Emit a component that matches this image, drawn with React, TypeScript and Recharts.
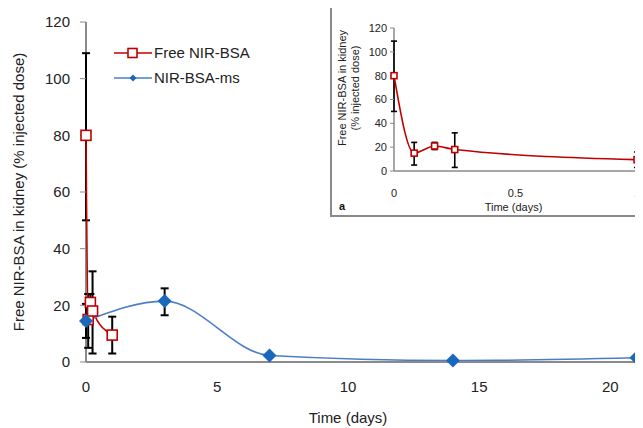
import React from 'react';
import {
  ComposedChart,
  Line,
  XAxis,
  YAxis,
  ErrorBar,
  Label,
  ReferenceLine,
} from 'recharts';

// Free NIR-BSA (days, % injected dose, error bar limits)
const freeX = [0, 0.083, 0.167, 0.25, 1];
const freeY = [80, 15, 21, 18, 9.5];
const freeLow = [50, 5, 18, 3, 3];
const freeHigh = [109, 24, 24, 32, 16];

// NIR-BSA-ms
const msX = [0, 3, 7, 14, 21];
const msY = [14.5, 21.5, 2.3, 0.5, 1.5];
const msLow = [8.5, 16.5, 2.3, 0.5, 1.5];
const msHigh = [20.5, 26, 2.3, 0.5, 1.5];

const seriesNames = ['Free NIR-BSA', 'NIR-BSA-ms'];
const yTicks = [0, 20, 40, 60, 80, 100, 120];
const mainXTicks = [0, 5, 10, 15, 20];
const insetXTicks = [0, 0.5, 1];

const RED = '#C00000';
const BLUE_DOT = '#1A68BE';
const BLUE_LINE = '#4A7EC6';
const AXIS = '#8A8A8A';
const FONT = '"Liberation Sans", Arial, sans-serif';

const toRows = (xs: number[], ys: number[], lo: number[], hi: number[]) =>
  xs.map((x, i) => ({ x, y: ys[i], err: [ys[i] - lo[i], hi[i] - ys[i]] }));

const freeData = toRows(freeX, freeY, freeLow, freeHigh);
const msData = toRows(msX, msY, msLow, msHigh);

const squareDot = (size: number) => (props: any) => {
  const { cx, cy, index } = props;
  if (cx == null || cy == null) return <g key={index} />;
  return (
    <rect
      key={index}
      x={cx - size / 2}
      y={cy - size / 2}
      width={size}
      height={size}
      fill="#fff"
      stroke={RED}
      strokeWidth={1.6}
    />
  );
};

const diamondDot = (size: number) => (props: any) => {
  const { cx, cy, index } = props;
  if (cx == null || cy == null) return <g key={index} />;
  const h = size / 2;
  return (
    <path
      key={index}
      d={`M${cx},${cy - h} L${cx + h},${cy} L${cx},${cy + h} L${cx - h},${cy} Z`}
      fill={BLUE_DOT}
    />
  );
};

const LegendBox = () => (
  <div
    style={{
      position: 'absolute',
      left: 114,
      top: 40,
      fontFamily: FONT,
      fontSize: 15,
      color: '#222',
    }}
  >
    {seriesNames.map((name, i) => (
      <div key={name} style={{ display: 'flex', alignItems: 'center', height: 25 }}>
        <svg width={38} height={14} style={{ marginRight: 2 }}>
          <line x1={0} y1={7} x2={38} y2={7} stroke={i === 0 ? RED : BLUE_LINE} strokeWidth={1.6} />
          {i === 0 ? (
            <rect x={14} y={2.5} width={9} height={9} fill="#fff" stroke={RED} strokeWidth={1.6} />
          ) : (
            <path d="M19,3.5 L22.5,7 L19,10.5 L15.5,7 Z" fill={BLUE_DOT} />
          )}
        </svg>
        <span>{name}</span>
      </div>
    ))}
  </div>
);

export default function App() {
  const tickStyle = { fontSize: 15, fill: '#222', fontFamily: FONT };
  const insetTick = { fontSize: 11, fill: '#222', fontFamily: FONT };

  return (
    <div
      style={{
        position: 'relative',
        width: 643,
        height: 428,
        marginLeft: -8,
        marginTop: -8,
        overflow: 'hidden',
        background: '#fff',
        fontFamily: FONT,
      }}
    >
      <ComposedChart width={643} height={428} margin={{ top: 22, right: 0, bottom: 26, left: 0 }}>
        <XAxis
          type="number"
          dataKey="x"
          domain={[0, 21.25]}
          ticks={mainXTicks}
          tick={tickStyle}
          tickLine={false}
          tickSize={5}
          tickMargin={14}
          height={40}
          axisLine={{ stroke: AXIS, strokeWidth: 2 }}
        >
          <Label
            content={(p: any) => {
              const vb = p.viewBox;
              return (
                <text x={348} y={vb.y + 61} textAnchor="middle" style={{ fontSize: 15, fill: '#222', fontFamily: FONT }}>
                  Time (days)
                </text>
              );
            }}
          />
        </XAxis>
        <YAxis
          type="number"
          domain={[0, 120]}
          ticks={yTicks}
          width={86}
          tick={tickStyle}
          tickLine={{ stroke: AXIS }}
          tickSize={6}
          tickMargin={10}
          axisLine={false}
        >
          <Label
            content={(p: any) => {
              const vb = p.viewBox;
              const cy = vb.y + vb.height / 2;
              return (
                <text
                  transform={`translate(24,${cy}) rotate(-90)`}
                  textAnchor="middle"
                  style={{ fontSize: 15, fill: '#222', fontFamily: FONT }}
                >
                  Free NIR-BSA in kidney (% injected dose)
                </text>
              );
            }}
          />
        </YAxis>
        <ReferenceLine x={0} stroke={AXIS} strokeWidth={2} />
        <Line
          data={freeData}
          dataKey="y"
          name={seriesNames[0]}
          type="monotone"
          stroke={RED}
          strokeWidth={1.6}
          dot={squareDot(10)}
          activeDot={false}
          isAnimationActive={false}
        >
          <ErrorBar dataKey="err" direction="y" width={4} stroke="#000" strokeWidth={2} />
        </Line>
        <Line
          data={msData}
          dataKey="y"
          name={seriesNames[1]}
          type="monotone"
          stroke={BLUE_LINE}
          strokeWidth={1.6}
          dot={diamondDot(14)}
          activeDot={false}
          isAnimationActive={false}
        >
          <ErrorBar dataKey="err" direction="y" width={4} stroke="#000" strokeWidth={2} />
        </Line>
      </ComposedChart>

      <LegendBox />

      <div
        style={{
          position: 'absolute',
          left: 330,
          top: 5,
          width: 309,
          height: 208,
          border: `2px solid ${AXIS}`,
          background: '#fff',
        }}
      >
        <ComposedChart width={309} height={208} margin={{ top: 21, right: 4, bottom: 14, left: 0 }}>
          <XAxis
            type="number"
            dataKey="x"
            domain={[0, 1]}
            ticks={insetXTicks}
            tick={insetTick}
            tickLine={false}
            tickSize={4}
            tickMargin={14}
            height={30}
            axisLine={{ stroke: AXIS, strokeWidth: 1.5 }}
          >
            <Label
              content={(p: any) => {
                const vb = p.viewBox;
                return (
                  <text
                    x={vb.x + vb.width / 2 - 2}
                    y={vb.y + 40}
                    textAnchor="middle"
                    style={{ fontSize: 11, fill: '#222', fontFamily: FONT }}
                  >
                    Time (days)
                  </text>
                );
              }}
            />
          </XAxis>
          <YAxis
            type="number"
            domain={[0, 120]}
            ticks={yTicks}
            width={62}
            tick={insetTick}
            tickLine={{ stroke: AXIS }}
            tickSize={4}
            tickMargin={3}
            axisLine={false}
          >
            <Label
              content={() => (
                <text
                  transform="translate(0,81) rotate(-90)"
                  textAnchor="middle"
                  style={{ fontSize: 11, fill: '#222', fontFamily: FONT }}
                >
                  <tspan x={0} y={14}>Free NIR-BSA in kidney</tspan>
                  <tspan x={0} y={27}>(% injected dose)</tspan>
                </text>
              )}
            />
          </YAxis>
          <ReferenceLine x={0} stroke={AXIS} strokeWidth={1.5} />
          <Line
            data={freeData}
            dataKey="y"
            name={seriesNames[0]}
            type="monotone"
            stroke={RED}
            strokeWidth={1.6}
            dot={squareDot(6)}
            activeDot={false}
            isAnimationActive={false}
          >
            <ErrorBar dataKey="err" direction="y" width={3} stroke="#000" strokeWidth={1.6} />
          </Line>
        </ComposedChart>
        <div
          style={{
            position: 'absolute',
            left: 7,
            top: 193,
            fontSize: 11,
            fontWeight: 'bold',
            color: '#111',
            lineHeight: '12px',
          }}
        >
          a
        </div>
      </div>
    </div>
  );
}
